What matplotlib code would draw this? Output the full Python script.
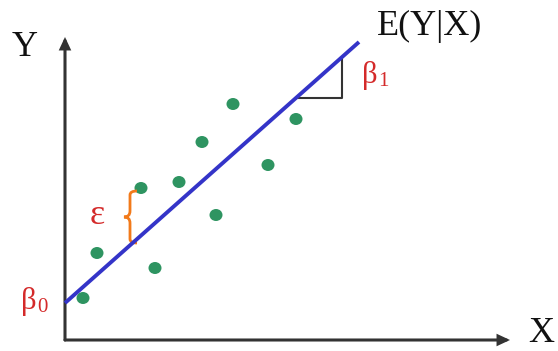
import matplotlib

matplotlib.use("Agg")
import matplotlib.pyplot as plt
from matplotlib.patches import Ellipse, FancyArrowPatch, PathPatch
from matplotlib.path import Path

# canvas coordinates in pixels, y grows downward
obs_x = [83, 97, 141, 155, 179, 202, 216, 233, 268, 296]
obs_y = [298, 253, 188, 268, 182, 142, 215, 104, 165, 119]

origin = (65, 340)
x_axis_end = 510
y_axis_end = 37

line_x = [65, 359]
line_y = [303, 42]

# slope triangle: horizontal run from the line, then vertical rise back to it
tri_x = [295, 342, 342]
tri_y = [98, 98, 57]

# error brace between the observation and the line
brace_x = 130
brace_top = 191
brace_bottom = 243

green = "#2e9461"
blue = "#3434c8"
red = "#d42a2a"
orange = "#f27a1a"
axis_color = "#333333"
serif = "Liberation Serif"

fig = plt.figure(figsize=(5.58, 3.51), dpi=100)
ax = fig.add_axes([0, 0, 1, 1])
ax.set_xlim(0, 558)
ax.set_ylim(351, 0)
ax.axis("off")

for end in [(x_axis_end, origin[1]), (origin[0], y_axis_end)]:
    ax.add_patch(FancyArrowPatch(origin, end, arrowstyle="-|>,head_length=6,head_width=2.8",
                                 color=axis_color, lw=2.2, shrinkA=0, shrinkB=0,
                                 mutation_scale=1, joinstyle="miter"))

ax.plot(tri_x, tri_y, color=axis_color, lw=1.5, solid_capstyle="butt")
ax.plot(line_x, line_y, color=blue, lw=2.8, solid_capstyle="butt")

for x, y in zip(obs_x, obs_y):
    ax.add_patch(Ellipse((x, y), 13, 12, color=green, lw=0))

mid = (brace_top + brace_bottom) / 2
verts = [
    (brace_x + 7, brace_top),
    (brace_x, brace_top), (brace_x, brace_top + 4),
    (brace_x, mid - 6),
    (brace_x, mid), (brace_x - 6, mid),
    (brace_x, mid), (brace_x, mid + 6),
    (brace_x, brace_bottom - 4),
    (brace_x, brace_bottom), (brace_x + 7, brace_bottom),
]
codes = [Path.MOVETO,
         Path.CURVE3, Path.CURVE3,
         Path.LINETO,
         Path.CURVE3, Path.CURVE3,
         Path.CURVE3, Path.CURVE3,
         Path.LINETO,
         Path.CURVE3, Path.CURVE3]
ax.add_patch(PathPatch(Path(verts, codes), fill=False, edgecolor=orange, lw=2))

ax.text(25, 48, "Y", family=serif, fontsize=26, color="#111111", ha="center", va="center")
ax.text(541, 334, "X", family=serif, fontsize=26, color="#111111", ha="center", va="center")
ax.text(430, 26, "E(Y|X)", family=serif, fontsize=26, color="#111111", ha="center", va="center")
ax.text(97, 216, "ε", family=serif, fontsize=26, color=red, ha="center", va="center")

# beta labels: symbol plus a small subscript digit
ax.text(362, 75, "β", family=serif, fontsize=22, color=red, ha="left", va="center")
ax.text(378, 82, "1", family=serif, fontsize=15, color=red, ha="left", va="center")
ax.text(21, 301, "β", family=serif, fontsize=22, color=red, ha="left", va="center")
ax.text(37, 308, "0", family=serif, fontsize=15, color=red, ha="left", va="center")

fig.savefig("out.png", dpi=100)
